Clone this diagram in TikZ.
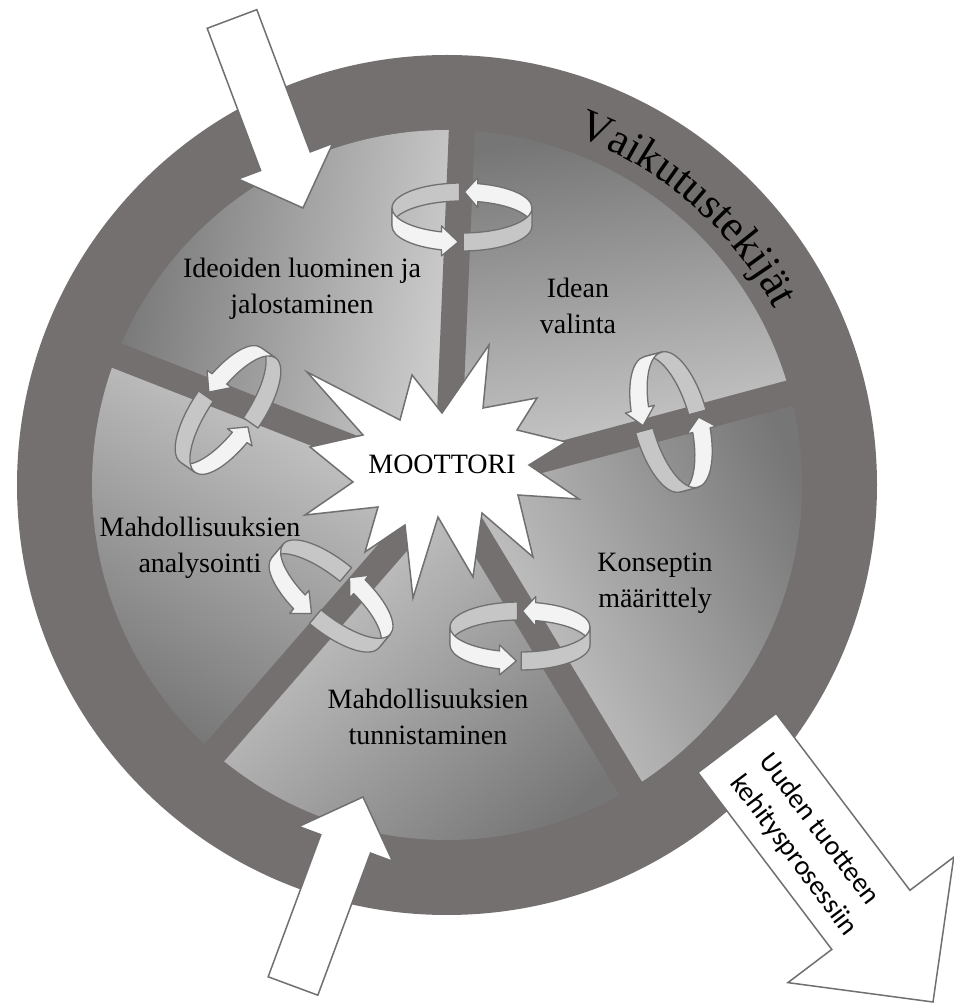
\documentclass[tikz,border=0pt]{standalone}
\usepackage{fontspec}
\setmainfont{Liberation Serif}
\newfontfamily\timesfont{Liberation Serif}
\newfontfamily\carlitofont{Carlito}
\usetikzlibrary{calc,decorations.text}
\definecolor{ringgray}{RGB}{116,112,111}
\definecolor{secdark}{RGB}{118,118,118}
\definecolor{seclight}{RGB}{208,208,208}
\definecolor{ribgray}{RGB}{198,198,198}
\definecolor{ribwhite}{RGB}{243,243,243}
\definecolor{edgegray}{RGB}{112,112,112}
\tikzset{
  bigarrow/.style={fill=white,draw=edgegray,line width=1.5pt,line join=miter},
  ribbon/.style={draw=edgegray,line width=1.3pt,line join=round},
  lbl/.style={align=center,inner sep=0pt,font=\timesfont\fontsize{28}{36}\selectfont},
  spokeline/.style={draw=ringgray,line width=26pt},
  starshape/.style={fill=white,draw=edgegray,line width=1.5pt,line join=miter},
}
% #1 start, #2 tip, #3 shaft half width, #4 head half width, #5 head length, #6 name
\newcommand\fatarrow[6]{%
  \coordinate (#6h) at ($(#2)!#5!(#1)$);
  \draw[bigarrow] ($(#1)!#3!90:(#2)$) -- ($(#6h)!#3!90:(#2)$) -- ($(#6h)!#4!90:(#2)$)
    -- (#2) -- ($(#6h)!#4!-90:(#2)$) -- ($(#6h)!#3!-90:(#2)$) -- ($(#1)!#3!-90:(#2)$) -- cycle;
}
% #1 name, #2 x, #3 y, #4 rotation, #5 minor radius
\newcommand\ringarrow[5]{%
  \begin{scope}[shift={(#2,#3)},rotate=#4]
    \coordinate (#1) at (0,0);
    \def\ra{70}\def\rb{#5}\def\rh{9}\def\re{6}
    % back, grey part
    \draw[ribbon,fill=ribgray] ({\ra*cos(92)},{\rb*sin(92)+\rh})
      arc[start angle=92,end angle=180,x radius=\ra,y radius=\rb]
      -- ++(0,{-2*\rh})
      arc[start angle=180,end angle=92,x radius=\ra,y radius=\rb] -- cycle;
    % back, white arrow
    \draw[ribbon,fill=ribwhite] ({\ra},{\rh})
      arc[start angle=0,end angle=77,x radius=\ra,y radius=\rb]
      -- ++(0,\re) -- ({\ra*cos(88)},{\rb*sin(88)})
      -- ({\ra*cos(77)},{\rb*sin(77)-\rh-\re}) -- ++(0,\re)
      arc[start angle=77,end angle=0,x radius=\ra,y radius=\rb] -- cycle;
    % front, white arrow
    \draw[ribbon,fill=ribwhite] ({-\ra},{\rh})
      arc[start angle=180,end angle=253,x radius=\ra,y radius=\rb]
      -- ++(0,\re) -- ({\ra*cos(267)},{\rb*sin(267)})
      -- ({\ra*cos(253)},{\rb*sin(253)-\rh-\re}) -- ++(0,\re)
      arc[start angle=253,end angle=180,x radius=\ra,y radius=\rb] -- cycle;
    % front, grey part
    \draw[ribbon,fill=ribgray] ({\ra*cos(271)},{\rb*sin(271)+\rh})
      arc[start angle=271,end angle=360,x radius=\ra,y radius=\rb]
      -- ++(0,{-2*\rh})
      arc[start angle=360,end angle=271,x radius=\ra,y radius=\rb] -- cycle;
  \end{scope}%
}
\begin{document}
\begin{tikzpicture}[x=1pt,y=1pt]
\useasboundingbox (0,0) rectangle (954,1005);
\fill[white] (0,0) rectangle (954,1005);
\coordinate (C) at (447,520);
% outer ring
\fill[ringgray] (C) circle[radius=430];
% sectors
\shade[top color=secdark,bottom color=seclight,shading angle=80]
  (C) -- ($(C)+(87.6:355)$) arc[start angle=87.6,end angle=158.6,radius=355] -- cycle;
\shade[top color=secdark,bottom color=seclight,shading angle=8]
  (C) -- ($(C)+(15:355)$) arc[start angle=15,end angle=87.6,radius=355] -- cycle;
\shade[top color=secdark,bottom color=seclight,shading angle=-65]
  (C) -- ($(C)+(-58.8:355)$) arc[start angle=-58.8,end angle=15,radius=355] -- cycle;
\shade[top color=secdark,bottom color=seclight,shading angle=-138]
  (C) -- ($(C)+(-131:355)$) arc[start angle=-131,end angle=-58.8,radius=355] -- cycle;
\shade[top color=secdark,bottom color=seclight,shading angle=151]
  (C) -- ($(C)+(158.6:355)$) arc[start angle=158.6,end angle=229,radius=355] -- cycle;
% spokes
\foreach \a in {87.6,15,-58.8,-131,158.6}
  \draw[spokeline] (C) -- ($(C)+(\a:358)$);
% ring title
\path[decorate,decoration={text along path,text align=center,
  text={|\timesfont\fontsize{44}{44}\selectfont|Vaikutustekijät}}]
  ($(C)+(92:372)$) arc[start angle=92,end angle=6,radius=372];
% big arrows
\coordinate (aS) at (232,986); \coordinate (aT) at (303,797);
\fatarrow{aS}{aT}{26.5pt}{50.5pt}{50pt}{arA}
\coordinate (bS) at (293,19); \coordinate (bT) at (363,208);
\fatarrow{bS}{bT}{26.5pt}{50pt}{50pt}{arB}
\coordinate (cS) at (737,262); \coordinate (cT) at (933,3);
\fatarrow{cS}{cT}{49pt}{104pt}{103pt}{arC}
% star
\draw[starshape] (305,490) -- (378,498) -- (365,453) -- (405,480) -- (413,407) -- (438,488)
  -- (473,428) -- (482,492) -- (533,448) -- (518,510) -- (579,506) -- (529,540)
  -- (566,563) -- (517,575) -- (537,607) -- (483,597) -- (489,660) -- (442,592)
  -- (412,630) -- (400,585) -- (307,633) -- (363,570) -- (310,558) -- (353,523) -- cycle;
\node[lbl] (motor) at (442,541) {MOOTTORI};
% circular arrows
\ringarrow{r1}{462}{788}{0}{25}
\ringarrow{r2}{671}{583}{-75}{28}
\ringarrow{r3}{520}{369}{0}{25}
\ringarrow{r4}{331}{409}{-40}{26}
\ringarrow{r5}{228}{595}{-125}{26}
% labels
\node[lbl] (s1) at (302,716) {Ideoiden luominen ja\\jalostaminen};
\node[lbl] (s2) at (578,699) {Idean\\valinta};
\node[lbl] (s3) at (655,422) {Konseptin\\määrittely};
\node[lbl] (s4) at (428,288) {Mahdollisuuksien\\tunnistaminen};
\node[lbl] (s5) at (200,457) {Mahdollisuuksien\\analysointi};
\node[rotate=-53,align=left,inner sep=0pt,font=\carlitofont\fontsize{28}{36}\selectfont]
  (out) at (808,160) {Uuden tuotteen\\kehitysprosessiin};
\end{tikzpicture}
\end{document}
